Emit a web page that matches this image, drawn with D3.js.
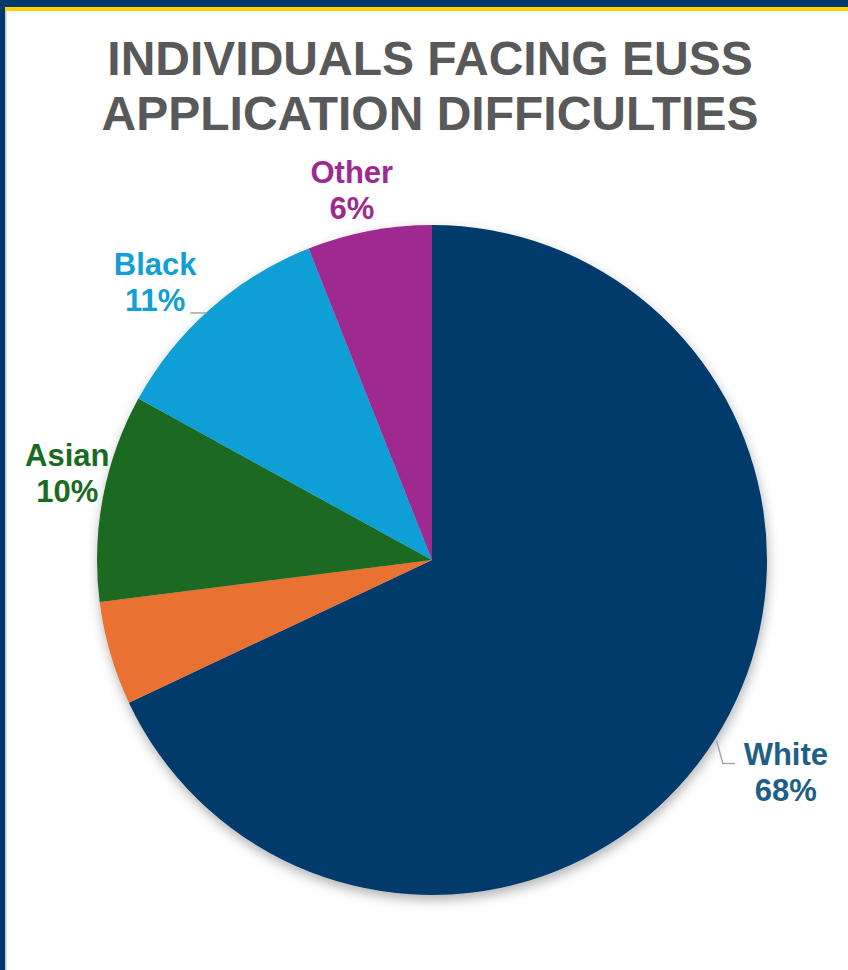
<!DOCTYPE html>
<html>
<head>
<meta charset="utf-8">
<script src="https://cdn.jsdelivr.net/npm/d3@7"></script>
<style>
  body { margin: 0; background: #fff; }
  svg { display: block; font-family: "Liberation Sans", Arial, sans-serif; }
</style>
</head>
<body>
<script>
var categories = ['White', 'Mixed', 'Asian', 'Black', 'Other']
var shares = [68, 5, 10, 11, 6]
var sliceColors = ['#003a6c', '#e97132', '#1b6a23', '#119fd6', '#9e2a8f']
var labelColors = ['#1d5f86', '#e97132', '#1b6a23', '#119fd6', '#9e2a8f']
var showLabel = [true, false, true, true, true]
var titleLines = ['INDIVIDUALS FACING EUSS', 'APPLICATION DIFFICULTIES']

var width = 848
var height = 970
var cx = 432, cy = 560, radius = 335
var labelRadius = 380
// nudges for where the labels end up (excel moves them around a bit)
var nudges = [[33, 8], [0, 0], [8.5, -16], [-25.5, 7], [-9, 3]]

var svg = d3.select('body').append('svg').attr('width', width).attr('height', height)

var defs = svg.append('defs')
var shadow = defs.append('filter').attr('id', 'shadow')
  .attr('x', '-10%').attr('y', '-10%').attr('width', '120%').attr('height', '125%')
shadow.append('feDropShadow')
  .attr('dx', 1).attr('dy', 5).attr('stdDeviation', 6)
  .attr('flood-color', '#000').attr('flood-opacity', 0.3)

// frame
svg.append('rect').attr('x', 0).attr('y', 0).attr('width', width).attr('height', 7).attr('fill', '#003a6c')
svg.append('rect').attr('x', 0).attr('y', 7).attr('width', width).attr('height', 4).attr('fill', '#ffd200')
svg.append('rect').attr('x', 0).attr('y', 0).attr('width', 5).attr('height', height).attr('fill', '#003a6c')
svg.append('rect').attr('x', 5).attr('y', 11).attr('width', 1.5).attr('height', height).attr('fill', '#c8c8c8')

svg.append('g').selectAll('text')
  .data(titleLines)
  .join('text')
  .attr('x', 430)
  .attr('y', (d, i) => 75 + i * 55)
  .attr('text-anchor', 'middle')
  .attr('font-size', 48)
  .attr('font-weight', 'bold')
  .attr('fill', '#595959')
  .text(d => d)

var pie = d3.pie().sort(null).value(d => d)
var arcs = pie(shares)
var arc = d3.arc().innerRadius(0).outerRadius(radius)
var labelArc = d3.arc().innerRadius(labelRadius).outerRadius(labelRadius)

var chartGroup = svg.append('g').attr('transform', `translate(${cx}, ${cy})`)

chartGroup.append('g')
  .attr('filter', 'url(#shadow)')
  .selectAll('path')
  .data(arcs)
  .join('path')
  .attr('d', arc)
  .attr('fill', (d, i) => sliceColors[i])

var labelPos = arcs.map((d, i) => {
  var c = labelArc.centroid(d)
  return [c[0] + nudges[i][0], c[1] + nudges[i][1]]
})

// leader lines
var bl = labelPos[3]
var by = bl[1] + 31
var bx = -Math.sqrt(radius * radius - by * by)
chartGroup.append('path')
  .attr('d', d3.line()([[bl[0] + 35, by], [bx + 1, by]]))
  .attr('stroke', '#a6a6a6').attr('stroke-width', 1.5).attr('fill', 'none')

var wa = (arcs[0].startAngle + arcs[0].endAngle) / 2
var we = [(radius + 2) * Math.sin(wa), -(radius + 2) * Math.cos(wa)]
var wl = labelPos[0]
chartGroup.append('path')
  .attr('d', d3.line()([we, [wl[0] - 63, wl[1] - 8], [wl[0] - 51, wl[1] - 8]]))
  .attr('stroke', '#a6a6a6').attr('stroke-width', 1.5).attr('fill', 'none')

var labels = chartGroup.append('g').selectAll('text')
  .data(arcs.filter((d, i) => showLabel[i]))
  .join('text')
  .attr('text-anchor', 'middle')
  .attr('font-size', 31)
  .attr('font-weight', 'bold')
  .attr('fill', d => labelColors[d.index])

labels.append('tspan')
  .attr('x', d => labelPos[d.index][0])
  .attr('y', d => labelPos[d.index][1] - 7)
  .text(d => categories[d.index])
labels.append('tspan')
  .attr('x', d => labelPos[d.index][0])
  .attr('y', d => labelPos[d.index][1] + 29)
  .text(d => shares[d.index] + '%')
</script>
</body>
</html>
